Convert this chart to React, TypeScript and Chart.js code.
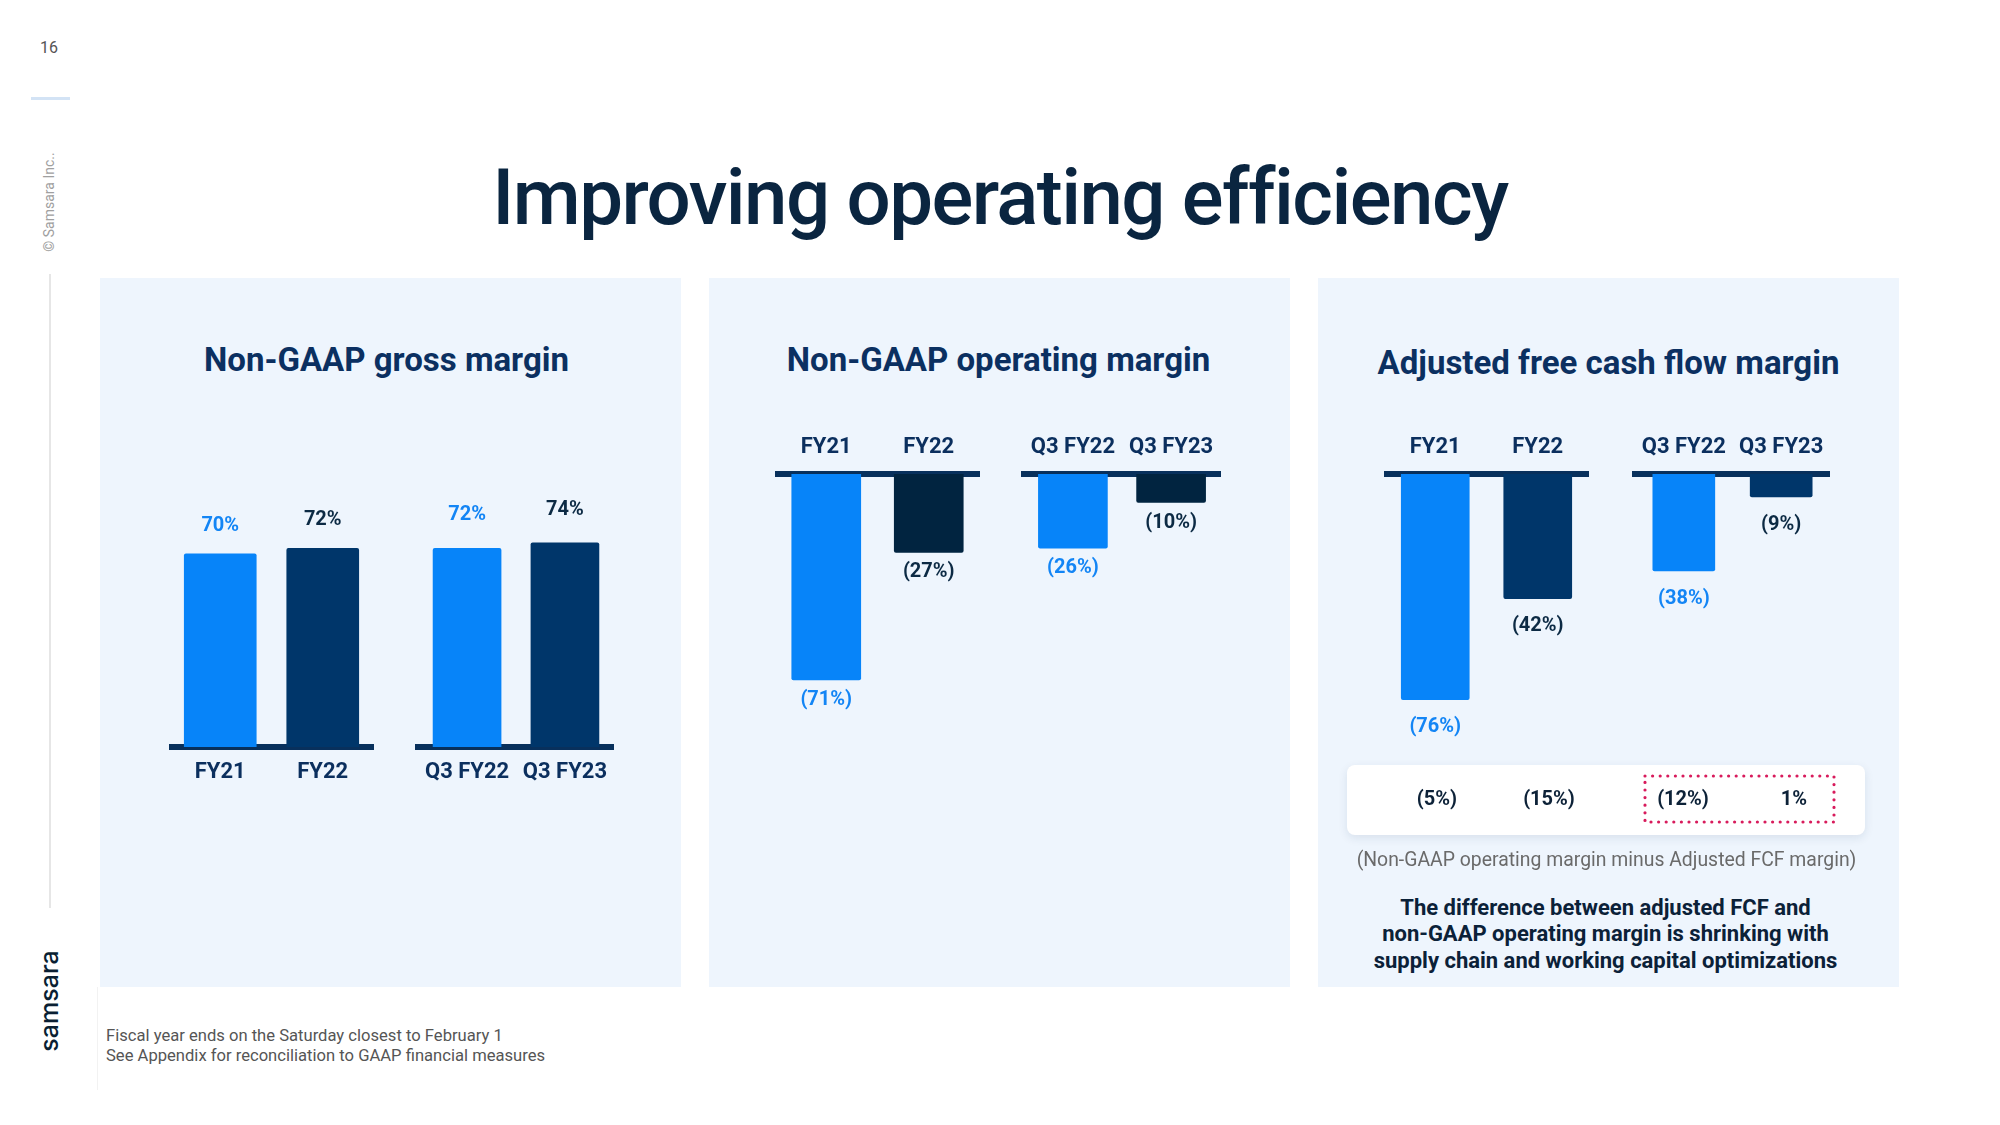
import React, { useEffect, useRef } from "react";
import { Chart, registerables } from "chart.js";

Chart.register(...registerables);

// ---------- data ----------
const annualLabels = ["FY21", "FY22"];
const quarterLabels = ["Q3 FY22", "Q3 FY23"];
const grossAnnual = [70, 72];
const grossQuarter = [72, 74];
const opAnnual = [-71, -27];
const opQuarter = [-26, -10];
const fcfAnnual = [-76, -42];
const fcfQuarter = [-38, -9];
const diffValues = [-5, -15, -12, 1];

// ---------- styles ----------
const BLUE = "#0784F9";
const NAVY = "#00366A";
const DARK = "#012440";
const LINE = "#08305C";
const LABEL_BLUE = "#1385F5";
const LABEL_DARK = "#0C2A44";
const TICK = "#0B2F5E";
const PANEL_BG = "#EEF5FD";
const FONT = "Roboto";
const AXIS_H = 60;

const fmt = (v: number) => (v < 0 ? `(${Math.abs(v)}%)` : `${v}%`);

const valueLabels = {
  id: "valueLabels",
  afterDatasetsDraw(chart: any, _args: any, opts: any) {
    const { ctx } = chart;
    const meta = chart.getDatasetMeta(0);
    const values = chart.data.datasets[0].data as number[];
    ctx.save();
    ctx.font = `bold ${opts.size}px ${FONT}`;
    ctx.textAlign = "center";
    ctx.textBaseline = "middle";
    meta.data.forEach((bar: any, i: number) => {
      const v = values[i];
      ctx.fillStyle = opts.colors[i];
      const y = v >= 0 ? bar.y - opts.offset : bar.y + opts.offset;
      ctx.fillText(fmt(v), bar.x, y);
    });
    ctx.restore();
  },
};

type GroupProps = {
  left: number;
  top: number;
  width: number;
  height: number;
  labels: string[];
  values: number[];
  barColors: string[];
  labelColors: string[];
  position: "top" | "bottom";
  min: number;
  max: number;
  barThickness: number;
  labelOffset: number;
  tickPadding: number;
};

function GroupChart(p: GroupProps) {
  const ref = useRef<HTMLCanvasElement>(null);
  useEffect(() => {
    const chart = new Chart(ref.current as HTMLCanvasElement, {
      type: "bar",
      data: {
        labels: p.labels,
        datasets: [
          {
            data: p.values,
            backgroundColor: p.barColors,
            borderRadius: 2,
            barThickness: p.barThickness,
          },
        ],
      },
      options: {
        animation: false,
        responsive: true,
        maintainAspectRatio: false,
        layout: { padding: 0 },
        plugins: {
          legend: { display: false },
          tooltip: { enabled: false },
          valueLabels: { size: 20, offset: p.labelOffset, colors: p.labelColors },
        } as any,
        scales: {
          x: {
            position: p.position,
            grid: { display: false, drawTicks: false },
            border: { display: true, color: LINE, width: 6 },
            ticks: {
              color: TICK,
              padding: p.tickPadding,
              font: { family: FONT, weight: "bold", size: 22 },
            },
            afterFit: (s: any) => {
              s.height = AXIS_H;
            },
          },
          y: { display: false, min: p.min, max: p.max },
        },
      },
      plugins: [valueLabels as any],
    });
    return () => chart.destroy();
  }, []);
  return (
    <div style={{ position: "absolute", left: p.left, top: p.top, width: p.width, height: p.height }}>
      <canvas ref={ref} />
    </div>
  );
}

const abs = (s: React.CSSProperties): React.CSSProperties => ({ position: "absolute", ...s });

function Panel({ left, title, titleY, shift }: { left: number; title: string; titleY: number; shift: number }) {
  return (
    <>
      <div style={abs({ left, top: 278, width: 581, height: 709, background: PANEL_BG })} />
      <div
        style={abs({
          left: left + shift,
          top: titleY - 20,
          width: 581,
          height: 40,
          lineHeight: "40px",
          textAlign: "center",
          fontFamily: FONT,
          fontWeight: 700,
          fontSize: 33,
          color: "#0B3061",
          whiteSpace: "nowrap",
        })}
      >
        {title}
      </div>
    </>
  );
}

const diffX = [1437, 1549, 1683, 1794];

export default function App() {
  return (
    <div
      style={{
        position: "absolute",
        left: 0,
        top: 0,
        width: 2000,
        height: 1125,
        background: "#ffffff",
        overflow: "hidden",
        fontFamily: FONT,
      }}
    >
      {/* sidebar */}
      <div style={abs({ left: 29, top: 38, width: 40, textAlign: "center", fontSize: 16, color: "#555", lineHeight: "20px" })}>16</div>
      <div style={abs({ left: 31, top: 97, width: 39, height: 3, background: "#D3E3F5" })} />
      <div
        style={abs({
          left: 49,
          top: 202,
          transform: "translate(-50%, -50%) rotate(-90deg)",
          fontSize: 14,
          color: "#A0A0A0",
          whiteSpace: "nowrap",
        })}
      >
        © Samsara Inc..
      </div>
      <div style={abs({ left: 49, top: 274, width: 1.5, height: 634, background: "#E6E6E6" })} />
      <div
        style={abs({
          left: 49,
          top: 1001,
          transform: "translate(-50%, -50%) rotate(-90deg)",
          fontSize: 25,
          fontFamily: "Inter",
          fontWeight: 500,
          color: "#0A1F33",
          whiteSpace: "nowrap",
        })}
      >
        samsara
      </div>
      <div style={abs({ left: 97, top: 987, width: 1, height: 103, background: "#F2F2F2" })} />

      {/* main title */}
      <div
        style={abs({
          left: 0,
          top: 148,
          width: 2000,
          height: 100,
          lineHeight: "100px",
          textAlign: "center",
          fontSize: 78,
          fontWeight: 500,
          letterSpacing: -1.56,
          color: "#0A2540",
          whiteSpace: "nowrap",
        })}
      >
        Improving operating efficiency
      </div>

      {/* panels */}
      <Panel left={100} title="Non-GAAP gross margin" titleY={360} shift={-4} />
      <Panel left={709} title="Non-GAAP operating margin" titleY={360} shift={-1} />
      <Panel left={1318} title="Adjusted free cash flow margin" titleY={363} shift={0} />

      {/* panel 1 */}
      <GroupChart left={169} top={471} width={205} height={276 + AXIS_H} labels={annualLabels} values={grossAnnual}
        barColors={[BLUE, NAVY]} labelColors={[LABEL_BLUE, LABEL_DARK]} position="bottom" min={0} max={100}
        barThickness={72} labelOffset={28} tickPadding={12} />
      <GroupChart left={414} top={471} width={204} height={276 + AXIS_H} labels={quarterLabels} values={grossQuarter}
        barColors={[BLUE, NAVY]} labelColors={[LABEL_BLUE, LABEL_DARK]} position="bottom" min={0} max={100}
        barThickness={68} labelOffset={33} tickPadding={12} />

      {/* panel 2 */}
      <GroupChart left={775} top={414} width={205} height={AXIS_H + 290} labels={annualLabels} values={opAnnual}
        barColors={[BLUE, DARK]} labelColors={[LABEL_BLUE, LABEL_DARK]} position="top" min={-100} max={0}
        barThickness={69} labelOffset={20} tickPadding={13} />
      <GroupChart left={1019} top={414} width={206} height={AXIS_H + 285} labels={quarterLabels} values={opQuarter}
        barColors={[BLUE, DARK]} labelColors={[LABEL_BLUE, LABEL_DARK]} position="top" min={-100} max={0}
        barThickness={69} labelOffset={20} tickPadding={13} />

      {/* panel 3 */}
      <GroupChart left={1384} top={414} width={205} height={AXIS_H + 297} labels={annualLabels} values={fcfAnnual}
        barColors={[BLUE, NAVY]} labelColors={[LABEL_BLUE, LABEL_DARK]} position="top" min={-100} max={0}
        barThickness={68} labelOffset={27.5} tickPadding={13} />
      <GroupChart left={1630} top={414} width={205} height={AXIS_H + 255} labels={quarterLabels} values={fcfQuarter}
        barColors={[BLUE, NAVY]} labelColors={[LABEL_BLUE, LABEL_DARK]} position="top" min={-100} max={0}
        barThickness={62} labelOffset={28} tickPadding={13} />

      {/* difference box */}
      <div
        style={abs({
          left: 1347,
          top: 765,
          width: 518,
          height: 70,
          background: "#ffffff",
          borderRadius: 8,
          boxShadow: "0 3px 10px rgba(20, 50, 90, 0.10)",
        })}
      />
      <svg style={abs({ left: 1640, top: 771, width: 200, height: 56 })} width={200} height={56}>
        <rect x={5} y={5} width={189} height={46} fill="none" stroke="#D81B5C" strokeWidth={3.2}
          strokeDasharray="0 7.6" strokeLinecap="round" />
      </svg>
      {diffValues.map((v, i) => (
        <div
          key={i}
          style={abs({
            left: diffX[i] - 50,
            top: 798 - 15,
            width: 100,
            height: 30,
            lineHeight: "30px",
            textAlign: "center",
            fontSize: 20,
            fontWeight: 700,
            color: "#0D2238",
          })}
        >
          {fmt(v)}
        </div>
      ))}
      <div
        style={abs({
          left: 1318,
          top: 860 - 14,
          width: 577,
          height: 28,
          lineHeight: "28px",
          textAlign: "center",
          fontSize: 19.4,
          color: "#6A6A6A",
          whiteSpace: "nowrap",
        })}
      >
        (Non-GAAP operating margin minus Adjusted FCF margin)
      </div>
      <div
        style={abs({
          left: 1318,
          top: 908 - 13.35,
          width: 575,
          lineHeight: "26.7px",
          textAlign: "center",
          fontSize: 22,
          fontWeight: 700,
          color: "#0B2138",
          whiteSpace: "nowrap",
        })}
      >
        The difference between adjusted FCF and
        <br />
        non-GAAP operating margin is shrinking with
        <br />
        supply chain and working capital optimizations
      </div>

      {/* footnote */}
      <div style={abs({ left: 106, top: 1026, lineHeight: "20px", fontSize: 16.6, color: "#555555", whiteSpace: "nowrap" })}>
        Fiscal year ends on the Saturday closest to February 1
        <br />
        See Appendix for reconciliation to GAAP financial measures
      </div>
    </div>
  );
}
